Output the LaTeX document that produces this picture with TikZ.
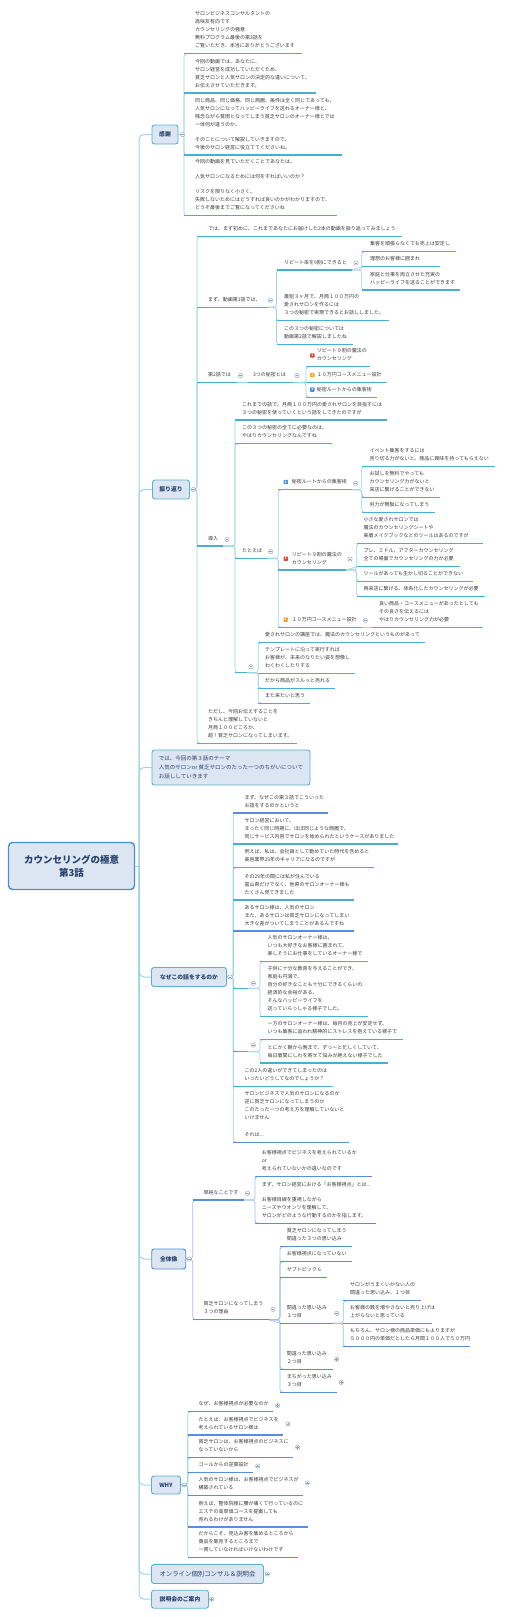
\documentclass[tikz,border=0pt]{standalone}
\usepackage{fontspec}
\setmainfont{Noto Sans CJK JP}
\usetikzlibrary{backgrounds}

\definecolor{boxfill}{HTML}{DCE6F2}
\definecolor{boxline}{HTML}{5AB0CF}
\definecolor{rootline}{HTML}{4A8FD2}
\definecolor{boxtext}{HTML}{27416A}
\definecolor{txt}{HTML}{3A3A3A}
\definecolor{ulteal}{HTML}{47B0D2}
\definecolor{ulblue}{HTML}{5A8ED8}
\definecolor{cnteal}{HTML}{9DD4E6}
\definecolor{cnblue}{HTML}{9FBEEA}
\definecolor{foldc}{HTML}{8C9FB6}
\definecolor{bred}{HTML}{E2433B}
\definecolor{borange}{HTML}{F5A524}
\definecolor{bblue}{HTML}{4B8FE2}
\colorlet{ulc}{ulteal}
\colorlet{cnc}{cnteal}

% topic: [text offset]{name}{x line}{y line}{x end}{text}
\newcommand\topic[6][7]{%
  \coordinate (#2-l) at (#3,#4);
  \coordinate (#2-r) at (#5,#4);
  \node[tp] (#2) at (#3+#1,#4) {#6};
  \draw[ul] (#2-l) -- (#2-r);}
% elbow from parent to topic
\newcommand\tlink[2]{%
  \begin{pgfonlayer}{background}
  \draw[conn] (#1) -- (#1 -| #2-l) -- (#2-l) -- ++(5,0);
  \end{pgfonlayer}}
% straight from parent to topic
\newcommand\tlinkst[2]{%
  \begin{pgfonlayer}{background}
  \draw[conn] (#1) -- (#2-l);
  \end{pgfonlayer}}

\begin{document}
\begin{tikzpicture}[x=1pt, y=-1pt,
  tp/.style={anchor=south west, inner xsep=0pt, inner ysep=3.4pt, align=left,
    font=\fontsize{5}{8}\selectfont, text=txt, execute at end node=\strut},
  ul/.style={draw=ulc, line width=1.1pt},
  conn/.style={draw=cnc, line width=0.7pt, rounded corners=3pt},
  trunk/.style={draw=cnteal, line width=1pt, rounded corners=5pt},
  mainbox/.style={draw=boxline, fill=boxfill, line width=0.9pt, rounded corners=2.5pt,
    text=boxtext, font=\fontsize{5.8}{7}\selectfont\bfseries, inner sep=0pt},
  themebox/.style={mainbox, font=\fontsize{5.5}{8.7}\selectfont, align=left,
    minimum width=158, minimum height=35},
  rootbox/.style={draw=rootline, fill=boxfill, line width=1.4pt, rounded corners=4pt,
    text=boxtext, font=\fontsize{9.5}{13}\selectfont\bfseries, align=center,
    minimum width=126, minimum height=47},
  fold/.style={circle, draw=foldc, fill=white, line width=0.4pt, minimum size=4.4pt,
    inner sep=0pt, path picture={\draw[foldc, line width=0.45pt]
      ([xshift=-1.3pt]path picture bounding box.center) -- ([xshift=1.3pt]path picture bounding box.center);}},
  unfold/.style={circle, draw=foldc, fill=white, line width=0.4pt, minimum size=4.4pt,
    inner sep=0pt, path picture={\draw[foldc, line width=0.45pt]
      ([xshift=-1.3pt]path picture bounding box.center) -- ([xshift=1.3pt]path picture bounding box.center)
      ([yshift=-1.3pt]path picture bounding box.center) -- ([yshift=1.3pt]path picture bounding box.center);}},
  badge/.style={rectangle, rounded corners=0.7pt, minimum width=4.4, minimum height=4.4,
    inner sep=0pt, text=white, font=\fontsize{3.2}{3.2}\selectfont\bfseries}
]
\useasboundingbox (0,0) rectangle (504,1617);

% --- root and main boxes ---
\node[rootbox] (root) at (71.5,866) {カウンセリングの極意\\第3話};
\coordinate (trunk) at (139,866);

\node[mainbox, minimum width=26, minimum height=19] (kansha) at (165,134.5) {感謝};
\node[mainbox, minimum width=37, minimum height=19] (furi) at (171,489.5) {振り返り};
\node[themebox] (theme) at (231,767.5) {では、今回の第３話のテーマ\\人気のサロンor 貧乏サロンのたった一つのちがいについて\\お話ししていきます};
\node[mainbox, minimum width=75, minimum height=19] (naze) at (189,977) {なぜこの話をするのか};
\node[mainbox, draw=rootline, minimum width=34, minimum height=20] (zentai) at (168.7,1259) {全体像};
\node[mainbox, minimum width=29, minimum height=18] (why) at (166,1485) {WHY};
\node[mainbox, font=\fontsize{6.4}{7}\selectfont, minimum width=112, minimum height=19] (online) at (207.5,1574) {オンライン個別コンサル＆説明会};
\node[mainbox, minimum width=57, minimum height=18] (setsumei) at (180,1599.2) {説明会のご案内};

\begin{pgfonlayer}{background}
\draw[trunk] (root.east) -- (trunk);
\draw[trunk] (trunk) |- (kansha.west);
\draw[trunk] (trunk) |- (furi.west);
\draw[trunk] (trunk) |- (theme.west);
\draw[trunk] (trunk) |- (naze.west);
\draw[trunk] (trunk) |- (zentai.west);
\draw[trunk] (trunk) |- (why.west);
\draw[trunk] (trunk) |- (online.west);
\draw[trunk] (trunk) |- (setsumei.west);
\end{pgfonlayer}

% --- 感謝 ---
\topic[11]{k1}{184}{53.7}{301.7}{サロンビジネスコンサルタントの\\高咲友有向です\\カウンセリングの極意\\無料プログラム最後の第3話を\\ご覧いただき、本当にありがとうございます}
\topic[11]{k2}{184}{93}{316}{今回の動画では、あなたに、\\サロン経営を成功していただくため、\\貧乏サロンと人気サロンの決定的な違いについて、\\お伝えさせていただきます。}
\topic[11]{k3}{184}{155}{341.7}{同じ商品、同じ価格、同じ商圏、条件は全く同じであっても、\\人気サロンになってハッピーライフを送れるオーナー様と、\\残念ながら貧困となってしまう貧乏サロンのオーナー様とでは\\一体何が違うのか。\\[7pt]そのことについて解説していきますので、\\今後のサロン経営に役立ててくださいね。}
\topic[11]{k4}{184}{215.7}{336.7}{今回の動画を見ていただくことであなたは、\\[7pt]人気サロンになるためには何をすればいいのか？\\[7pt]リスクを限りなく小さく、\\失敗しないためにはどうすれば良いのかがわかりますので、\\どうぞ最後までご覧になってくださいね}
\tlink{kansha.east}{k1}
\tlink{kansha.east}{k2}
\tlink{kansha.east}{k3}
\tlink{kansha.east}{k4}
\node[fold] (kansha-f) at (182.5,134.5) {};

% --- 振り返り ---
\topic[11]{r1}{197}{236.7}{401.7}{では、まず初めに、これまであなたにお届けした2本の動画を振り返ってみましょう}
\topic[11]{r2}{197}{307.3}{266.7}{まず、動画第1話では、}
\topic[11]{r3}{197}{382.7}{236.7}{第2話では}
\topic[11]{r4}{197}{546}{222.7}{導入}
\topic[11]{r5}{197}{743.3}{297.3}{ただし、今回お伝えすることを\\きちんと理解していないと\\月商１００どころか、\\超！貧乏サロンになってしまいます。}
\tlink{furi.east}{r1}
\tlink{furi.east}{r2}
\tlink{furi.east}{r3}
\tlink{furi.east}{r4}
\tlink{furi.east}{r5}
\node[fold] (furi-f) at (193.5,489.5) {};

\topic[7.5]{r2a}{276.5}{270}{351.7}{リピート率を9割にできると}
\topic[7.5]{r2b}{276.5}{320.7}{389.3}{最短３ヶ月で、月商１００万円の\\愛されサロンを作るには\\３つの秘密で実現できるとお話ししました。}
\topic[7.5]{r2c}{276.5}{344.7}{352.7}{この３つの秘密については\\動画第2話で解説しましたね}
\tlink{r2-r}{r2a}
\tlink{r2-r}{r2b}
\tlink{r2-r}{r2c}
\node[fold] (r2-f) at (270.5,300.3) {};

\topic[8.3]{r2a1}{361.7}{251.7}{455.7}{集客を頑張らなくても売上は安定し}
\topic[8.3]{r2a2}{361.7}{266.7}{440}{理想のお客様に囲まれ}
\topic[8.3]{r2a3}{361.7}{290}{460}{家庭と仕事を両立させた充実の\\ハッピーライフを送ることができます}
\tlink{r2a-r}{r2a1}
\tlinkst{r2a-r}{r2a2}
\tlink{r2a-r}{r2a3}
\node[fold] (r2a-f) at (356,263) {};

\topic[5]{r3a}{248}{382.7}{293.3}{3つの秘密とは}
\tlinkst{r3-r}{r3a}
\node[fold] (r3-f) at (240.5,375.5) {};

\topic[10.7]{r3a1}{306}{366.7}{370}{リピート９割の魔法の\\カウンセリング}
\topic[10.7]{r3a2}{306}{382.7}{386.7}{１０万円コースメニュー設計}
\topic[10.7]{r3a3}{306}{397.3}{377.3}{秘密ルートからの集客術}
\node[badge, fill=bred] (r3a1-b) at (312.3,355.5) {1};
\node[badge, fill=borange] (r3a2-b) at (312.3,375) {2};
\node[badge, fill=bblue] (r3a3-b) at (312.3,389.6) {3};
\tlink{r3a-r}{r3a1}
\tlinkst{r3a-r}{r3a2}
\tlink{r3a-r}{r3a3}
\node[fold] (r3a-f) at (297,375.5) {};

% 導入
\topic{r4a}{235}{420}{386.7}{これまでの話で、月商１００万円の愛されサロンを目指すには\\３つの秘密を使っていくという話をしてきたのですが}
\topic{r4b}{235}{443.7}{331.7}{この３つの秘密の全てに必要なのは、\\やはりカウンセリングなんですね}
\topic{r4c}{235}{558.3}{266.7}{たとえば}
\topic{r4d}{235}{672.7}{247}{}
\tlink{r4-r}{r4a}
\tlink{r4-r}{r4b}
\tlink{r4-r}{r4c}
\tlink{r4-r}{r4d}
\node[fold] (r4-f) at (227,539.5) {};

\topic[13.4]{r4c1}{278.3}{489.7}{351.7}{秘密ルートからの集客術}
\topic[13.4]{r4c2}{278.3}{570}{346}{リピート９割の魔法の\\カウンセリング}
\topic[13.4]{r4c3}{278.3}{627.3}{361.7}{１０万円コースメニュー設計}
\node[badge, fill=bblue] (r4c1-b) at (285.7,482) {3};
\node[badge, fill=bred] (r4c2-b) at (285.7,558.7) {1};
\node[badge, fill=borange] (r4c3-b) at (285.7,619.6) {2};
\tlink{r4c-r}{r4c1}
\tlink{r4c-r}{r4c2}
\tlink{r4c-r}{r4c3}
\node[fold] (r4c-f) at (270.7,551.5) {};

\topic[7.6]{r4c1a}{361.7}{466.3}{495}{イベント集客をするには\\売り切る力がないと、商品に興味を持ってもらえない}
\topic[7.6]{r4c1b}{361.7}{497.3}{440}{お試しを無料でやっても\\カウンセリング力がないと\\来店に繋げることができない}
\topic[7.6]{r4c1c}{361.7}{512.3}{435}{労力が無駄になってしまう}
\tlink{r4c1-r}{r4c1a}
\tlink{r4c1-r}{r4c1b}
\tlink{r4c1-r}{r4c1c}
\node[fold] (r4c1-f) at (355.7,483.3) {};

\topic[6.7]{r4c2a}{356.7}{543.3}{483.3}{小さな愛されサロンでは\\魔法のカウンセリングシートや\\美眉メイクブックなどのツールはあるのですが}
\topic[6.7]{r4c2b}{356.7}{566.7}{460}{プレ、ミドル、アフターカウンセリング\\全ての場面でカウンセリングの力が必要}
\topic[6.7]{r4c2c}{356.7}{581.7}{473.3}{ツールがあっても生かし切ることができない}
\topic[6.7]{r4c2d}{356.7}{596.7}{485}{再来店に繋げる、体系化したカウンセリングが必要}
\tlink{r4c2-r}{r4c2a}
\tlinkst{r4c2-r}{r4c2b}
\tlink{r4c2-r}{r4c2c}
\tlink{r4c2-r}{r4c2d}
\node[fold] (r4c2-f) at (350,559) {};

\topic[7.3]{r4c3a}{371.7}{627.3}{483.3}{良い商品・コースメニューがあったとしても\\その良さを伝えるには\\やはりカウンセリング力が必要}
\tlinkst{r4c3-r}{r4c3a}
\node[fold] (r4c3-f) at (365.3,620.5) {};

\topic[6.7]{r4d1}{258.3}{642.7}{425}{愛されサロンの講座では、魔法のカウンセリングというものがあって}
\topic[6.7]{r4d2}{258.3}{673.3}{355}{テンプレートに沿って実行すれば\\お客様が、未来のなりたい姿を想像し\\わくわくしたりする}
\topic[6.7]{r4d3}{258.3}{688.3}{335}{だから商品がスルッと売れる}
\topic[6.7]{r4d4}{258.3}{703.3}{310}{また来たいと思う}
\tlink{r4d-r}{r4d1}
\tlinkst{r4d-r}{r4d2}
\tlink{r4d-r}{r4d3}
\tlink{r4d-r}{r4d4}
\node[fold] (r4d-f) at (251,666.7) {};

% --- なぜこの話をするのか ---
\colorlet{ulc}{ulblue}
\topic[11]{n1}{233.3}{813}{328.3}{まず、なぜこの第３話でこういった\\お話をするのかというと}
\colorlet{ulc}{ulteal}
\topic[11]{n2}{233.3}{844}{398.3}{サロン経営において、\\まったく同じ時期に、ほぼ同じような商圏で、\\同じサービス内容でサロンを始められたというケースがありました}
\topic[11]{n3}{233.3}{867.7}{374.3}{例えば、私は、会社員として勤めていた時代を含めると\\美容業界29年のキャリアになるのですが}
\topic[11]{n4}{233.3}{900}{354}{その29年の間には私が住んでいる\\富山県だけでなく、他県のサロンオーナー様も\\たくさん見てきました}
\colorlet{ulc}{ulblue}
\topic[11]{n5}{233.3}{931}{354}{あるサロン様は、人気のサロン\\また、あるサロンは貧乏サロンになってしまい\\大きな差がついてしまうことがあるんですね}
\colorlet{ulc}{ulteal}
\topic[11]{n6}{233.3}{988.3}{248.3}{}
\topic[11]{n7}{233.3}{1051.7}{248.3}{}
\topic[11]{n8}{233.3}{1086.7}{332.7}{この2人の違いができてしまったのは\\いったいどうしてなのでしょうか？}
\colorlet{ulc}{ulblue}
\topic[11]{n9}{233.3}{1142.3}{349.3}{サロンビジネスで人気のサロンになるのか\\逆に貧乏サロンになってしまうのか\\このたった一つの考え方を理解していないと\\いけません\\[8.5pt]それは...}
\colorlet{ulc}{ulteal}
\tlink{naze.east}{n1}
\tlink{naze.east}{n2}
\tlink{naze.east}{n3}
\tlink{naze.east}{n4}
\tlink{naze.east}{n5}
\tlink{naze.east}{n6}
\tlink{naze.east}{n7}
\tlink{naze.east}{n8}
\tlink{naze.east}{n9}
\node[fold] (naze-f) at (230,977) {};

\topic[7.3]{n6a}{260}{961.7}{367.7}{人気のサロンオーナー様は、\\いつも大好きなお客様に囲まれて、\\楽しそうにお仕事をしているオーナー様で}
\topic[7.3]{n6b}{260}{1016.7}{367.7}{子供に十分な教育を与えることができ、\\家庭も円満で、\\自分の好きなことも十分にできるくらいの\\経済的な余裕がある、\\そんなハッピーライフを\\送っていらっしゃる様子でした。}
\tlink{n6-r}{n6a}
\tlink{n6-r}{n6b}
\node[fold] (n6-f) at (253.3,983.3) {};

\topic[7.3]{n7a}{260}{1039.7}{402.7}{一方のサロンオーナー様は、毎月の売上が安定せず、\\いつも集客に追われ精神的にストレスを抱えている様子で}
\topic[7.3]{n7b}{260}{1063}{388.3}{とにかく朝から晩まで、ずっーと忙しくしていて、\\毎日眉間にしわを寄せて悩みが絶えない様子でした}
\tlink{n7-r}{n7a}
\tlink{n7-r}{n7b}
\node[fold] (n7-f) at (253.3,1045) {};

% --- 全体像 ---
\colorlet{ulc}{ulblue}
\colorlet{cnc}{cnblue}
\topic[10.7]{z1}{192.7}{1200}{244}{単純なことです}
\topic[10.7]{z2}{192.7}{1319.7}{269.3}{貧乏サロンになってしまう\\３つの理由}
\tlink{zentai.east}{z1}
\tlink{zentai.east}{z2}
\node[fold] (zentai-f) at (189.3,1259) {};

\topic[6.7]{z1a}{255}{1176.7}{372.3}{お客様視点でビジネスを考えられているか\\or\\考えられていないかの違いなのです}
\topic[6.7]{z1b}{255}{1223.3}{376}{まず、サロン経営における「お客様視点」とは...\\[7pt]お客様目線を重視しながら\\ニーズやウオンツを理解して、\\サロンがどのような行動するのかを指します。}
\tlink{z1-r}{z1a}
\tlink{z1-r}{z1b}
\node[fold] (z1-f) at (247.5,1193.3) {};

\topic[6.7]{z2a}{280}{1246.7}{352.3}{貧乏サロンになってしまう\\間違った３つの思い込み}
\topic[6.7]{z2b}{280}{1261.7}{352.3}{お客様視点になっていない}
\topic[6.7]{z2c}{280}{1277.3}{326.7}{サブトピック 6}
\topic[6.7]{z2d}{280}{1323.3}{332.7}{間違った思い込み\\１つ目}
\topic[6.7]{z2e}{280}{1369.3}{332.7}{間違った思い込み\\２つ目}
\topic[6.7]{z2f}{280}{1392.3}{337.3}{まちがった思い込み\\３つ目}
\tlink{z2-r}{z2a}
\tlink{z2-r}{z2b}
\tlink{z2-r}{z2c}
\tlinkst{z2-r}{z2d}
\tlink{z2-r}{z2e}
\tlink{z2-r}{z2f}
\node[fold] (z2-f) at (273,1309.3) {};
\node[unfold] (z2e-f) at (336.7,1359.3) {};
\node[unfold] (z2f-f) at (341.3,1382.3) {};

\topic[6.7]{z2d1}{343.3}{1300.7}{421}{サロンがうまくいかない人の\\間違った思い込み、１つ目}
\topic[6.7]{z2d2}{343.3}{1323.7}{431.7}{お客様の数を増やさないと売り上げは\\上がらないと思っている}
\topic[6.7]{z2d3}{343.3}{1346.7}{470}{もちろん、サロン様の商品単価にもよりますが\\５０００円の単価だとしたら月間１００人で５０万円}
\tlink{z2d-r}{z2d1}
\tlinkst{z2d-r}{z2d2}
\tlink{z2d-r}{z2d3}
\node[fold] (z2d-f) at (336.7,1313.3) {};

% --- WHY ---
\colorlet{cnc}{cnteal}
\topic[10.7]{w1}{187.7}{1411.7}{273.3}{なぜ、お客様視点が必要なのか}
\topic[10.7]{w2}{187.7}{1435}{283.3}{たとえば、お客様視点でビジネスを\\考えられているサロン様は}
\topic[10.7]{w3}{187.7}{1457.7}{293.3}{貧乏サロンは、お客様視点のビジネスに\\なっていないから}
\topic[10.7]{w4}{187.7}{1472.7}{253.3}{ゴールからの逆算設計}
\topic[10.7]{w5}{187.7}{1495.7}{303.3}{人気のサロン様は、お客様視点でビジネスが\\構築されている}
\topic[10.7]{w6}{187.7}{1527}{308.3}{例えば、整体院様に腰が痛くて行っているのに\\エステの高単価コースを提案しても\\売れるわけがありません}
\topic[10.7]{w7}{187.7}{1557.7}{298.3}{だからこそ、見込み客を集めるところから\\商品を販売するところまで\\一貫していなければいけないわけです}
\tlink{why.east}{w1}
\tlink{why.east}{w2}
\tlink{why.east}{w3}
\tlink{why.east}{w4}
\tlink{why.east}{w5}
\tlink{why.east}{w6}
\tlink{why.east}{w7}
\node[fold] (why-f) at (184.3,1485) {};
\node[unfold] (w1-f) at (277.7,1405.7) {};
\node[unfold] (w2-f) at (288,1424) {};
\node[unfold] (w3-f) at (297.7,1447.3) {};
\node[unfold] (w4-f) at (257.7,1466) {};
\node[unfold] (w5-f) at (307.3,1483) {};

% --- last boxes ---
\node[unfold] (online-f) at (267.3,1574) {};
\node[unfold] (setsumei-f) at (211.7,1599.2) {};

\end{tikzpicture}
\end{document}
